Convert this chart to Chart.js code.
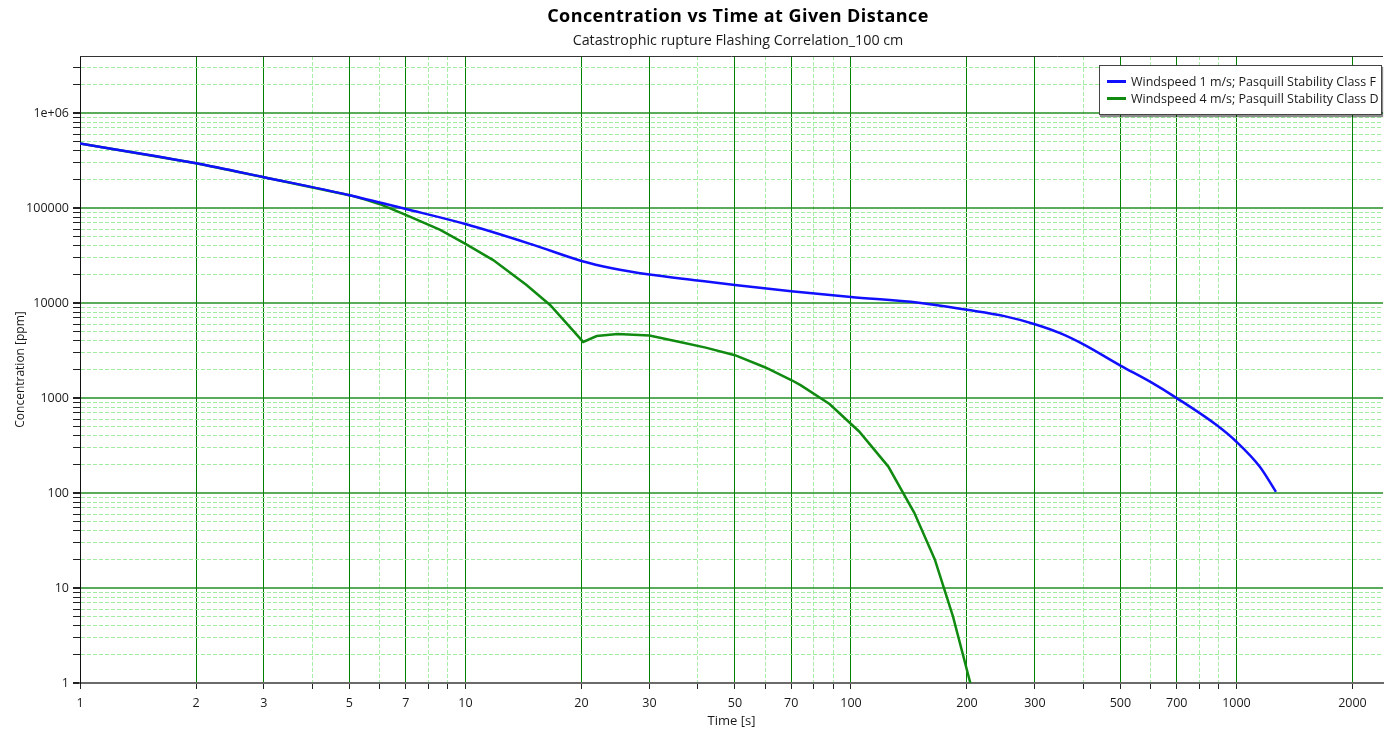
<!DOCTYPE html>
<html>
<head>
<meta charset="utf-8">
<script src="https://cdn.jsdelivr.net/npm/chart.js@4.4.1/dist/chart.umd.min.js"></script>
<style>
  html, body { margin: 0; padding: 0; background: #fff; overflow: hidden; }
  #wrap { position: relative; width: 1385px; height: 733px; }
  .ttl { position: absolute; left: 0; width: 1476px; text-align: center; white-space: nowrap; font-family: 'Open Sans', sans-serif; }
  #title { top: 3px; font-size: 18px; font-weight: bold; letter-spacing: 0.45px; color: #000; }
  #subtitle { top: 30px; font-size: 14.3px; color: #1a1a1a; }
  #legend {
    position: absolute; left: 1099px; top: 65px; width: 283px; height: 50px;
    background: #fff; border: 1px solid #444; box-shadow: 1px 2px 1px rgba(0,0,0,0.45);
    font: 12.5px 'Open Sans', sans-serif; color: #1a1a1a; box-sizing: border-box;
    padding: 7px 0 0 7px;
  }
  #legend .row { display: flex; align-items: center; height: 17px; white-space: nowrap; }
  #legend .sw { width: 19px; height: 3px; margin-right: 5px; }
</style>
</head>
<body>
<div id="wrap">
  <canvas id="chart"></canvas>
  <div id="title" class="ttl">Concentration vs Time at Given Distance</div>
  <div id="subtitle" class="ttl">Catastrophic rupture Flashing Correlation_100 cm</div>
  <div id="legend"></div>
</div>
<script>
// series 1: windspeed 1 m/s, class F
const timeF = [1, 2, 3, 5, 7, 10, 15, 20, 24, 30, 40, 50, 70, 100, 150, 200, 250, 300, 350, 400, 500, 600, 700, 888, 1000, 1150, 1266];
const concF = [480000, 297000, 212000, 137000, 98000, 68000, 41000, 27800, 23300, 20000, 17300, 15500, 13300, 11600, 10100, 8500, 7300, 6000, 4800, 3700, 2200, 1470, 1000, 520, 347, 189, 103];

// series 2: windspeed 4 m/s, class D
const timeD = [1, 2, 3, 5, 5.5, 6, 7, 8.6, 10, 11.8, 14.4, 16.6, 20.2, 21.9, 24.8, 30, 36, 42, 50, 60, 70, 74, 88, 105, 125, 146, 165, 184, 204];
const concD = [480000, 297000, 212000, 137000, 123000, 110000, 85000, 59000, 42000, 28400, 15500, 9500, 3900, 4500, 4720, 4550, 3900, 3400, 2830, 2100, 1550, 1370, 865, 445, 190, 62, 20, 5, 1];

const seriesLabels = ['Windspeed 1 m/s; Pasquill Stability Class F', 'Windspeed 4 m/s; Pasquill Stability Class D'];
const seriesColors = ['#1010ff', '#118a11'];

// axis ticks
const xMajorTicks = [1, 2, 3, 5, 7, 10, 20, 30, 50, 70, 100, 200, 300, 500, 700, 1000, 2000];
const xMinorTicks = [4, 6, 8, 9, 40, 60, 80, 90, 400, 600, 800, 900];
const yMajorTicks = [1, 10, 100, 1000, 10000, 100000, 1000000];
const yTickLabels = ['1', '10', '100', '1000', '10000', '100000', '1e+06'];
const yMinorSteps = [2, 3, 4, 5, 6, 7, 8, 9];

const xTicks = xMajorTicks.concat(xMinorTicks).sort((a, b) => a - b);
const yTicks = [];
yMajorTicks.forEach((d) => {
  yTicks.push(d);
  yMinorSteps.forEach((m) => { if (d * m < 4e6) yTicks.push(d * m); });
});
const xMajorSet = new Set(xMajorTicks);
const yMajorSet = new Set(yMajorTicks);

Chart.defaults.font.family = "'Open Sans', sans-serif";
Chart.defaults.color = '#1a1a1a';

const frame = {
  id: 'frame',
  afterDraw(chart) {
    const { ctx, chartArea: a } = chart;
    ctx.save();
    ctx.strokeStyle = '#333';
    ctx.lineWidth = 1;
    ctx.beginPath();
    ctx.moveTo(a.left, a.top + 0.5);
    ctx.lineTo(a.right, a.top + 0.5);
    ctx.stroke();
    ctx.restore();
  }
};

new Chart(document.getElementById('chart'), {
  type: 'line',
  data: {
    datasets: [
      {
        label: seriesLabels[0],
        data: timeF.map((t, i) => ({ x: t, y: concF[i] })),
        borderColor: seriesColors[0],
        borderWidth: 2.5,
        pointRadius: 0,
        cubicInterpolationMode: 'monotone',
      },
      {
        label: seriesLabels[1],
        data: timeD.map((t, i) => ({ x: t, y: concD[i] })),
        borderColor: seriesColors[1],
        borderWidth: 2.5,
        pointRadius: 0,
        tension: 0,
      },
    ],
  },
  options: {
    responsive: true,
    maintainAspectRatio: false,
    animation: false,
    layout: { padding: { top: 56, right: 2, left: 0, bottom: 0 } },
    plugins: {
      legend: { display: false },
      tooltip: { enabled: false },
    },
    scales: {
      x: {
        type: 'logarithmic',
        min: 1,
        max: 2400,
        afterBuildTicks: (s) => { s.ticks = xTicks.map((v) => ({ value: v })); },
        afterFit: (s) => { s.height = 50; },
        ticks: {
          autoSkip: false,
          maxRotation: 0,
          padding: 7,
          font: { size: 12.5 },
          callback: (v) => (xMajorSet.has(v) ? String(v) : ''),
        },
        grid: {
          color: (c) => (c.tick && xMajorSet.has(c.tick.value) ? '#008000' : '#a8eea8'),
          lineWidth: 1,
          tickColor: '#222',
          tickLength: 6,
        },
        border: {
          color: '#6a6a6a',
          width: 2,
          dash: (c) => (c.tick && !xMajorSet.has(c.tick.value) ? [4, 2] : []),
        },
        title: {
          display: true,
          text: 'Time [s]',
          font: { size: 13 },
          padding: { top: 0, bottom: 4 },
        },
      },
      y: {
        type: 'logarithmic',
        min: 1,
        max: 4e6,
        afterBuildTicks: (s) => { s.ticks = yTicks.map((v) => ({ value: v })); },
        afterFit: (s) => { s.width = 80; },
        ticks: {
          autoSkip: false,
          padding: 4,
          font: { size: 12.5 },
          callback: (v) => {
            const i = yMajorTicks.indexOf(v);
            return i >= 0 ? yTickLabels[i] : '';
          },
        },
        grid: {
          color: (c) => (c.tick && yMajorSet.has(c.tick.value) ? 'rgba(20,135,20,0.7)' : '#a0eca0'),
          lineWidth: (c) => (c.tick && yMajorSet.has(c.tick.value) ? 2 : 1),
          tickColor: '#222',
          tickLength: 7,
        },
        border: {
          color: '#111',
          width: 1,
          dash: (c) => (c.tick && !yMajorSet.has(c.tick.value) ? [4, 2] : []),
        },
        title: {
          display: true,
          text: 'Concentration [ppm]',
          font: { size: 12 },
          padding: { top: 13, bottom: 0 },
        },
      },
    },
  },
  plugins: [frame],
});

const legend = document.getElementById('legend');
seriesLabels.forEach((name, i) => {
  const row = document.createElement('div');
  row.className = 'row';
  row.innerHTML = `<span class="sw" style="background:${seriesColors[i]}"></span><span>${name}</span>`;
  legend.appendChild(row);
});
</script>
</body>
</html>
